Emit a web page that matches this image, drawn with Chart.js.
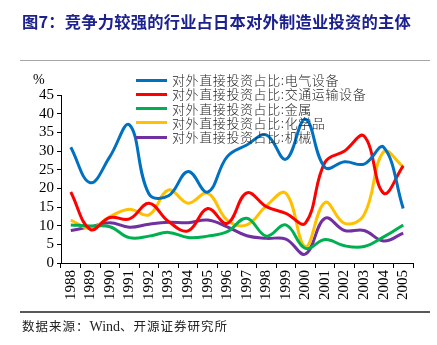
<!DOCTYPE html>
<html>
<head>
<meta charset="utf-8">
<script src="https://cdn.jsdelivr.net/npm/chart.js@4/dist/chart.umd.min.js"></script>
<style>
  html, body { margin: 0; padding: 0; background: #fff; }
  #wrap { position: relative; width: 437px; height: 345px; overflow: hidden; background: #fff; }
  #c { position: absolute; left: 0; top: 0; }
  #title { position: absolute; left: 22px; top: 9px; font-family: "Noto Sans CJK SC", sans-serif; font-weight: 700; font-size: 16.3px; color: #1c2190; white-space: nowrap; letter-spacing: 0.2px; }
  #rule1 { position: absolute; left: 20px; top: 60px; width: 410px; height: 1px; background: #a6a6a6; }
  #rule2 { position: absolute; left: 20px; top: 311px; width: 410px; height: 2px; background: #595959; }
  #source { position: absolute; left: 22px; top: 316px; font-family: "Noto Sans CJK SC", sans-serif; font-size: 12.5px; color: #222; white-space: nowrap; letter-spacing: 1px; }
  #source .en { font-family: "Liberation Serif", serif; font-size: 14px; letter-spacing: 0; }
  #pct { position: absolute; left: 33px; top: 72px; font-family: "Liberation Serif", serif; font-size: 14px; color: #000; }
  #legend { position: absolute; left: 136px; top: 73px; }
  .li { height: 14.25px; display: flex; align-items: center; white-space: nowrap; }
  .sw { width: 31px; height: 3px; margin-right: 5px; }
  .lt { font-family: "Noto Sans CJK SC", sans-serif; font-size: 13px; font-weight: 300; color: #222; letter-spacing: 0.6px; line-height: 14px; }
</style>
</head>
<body>
<div id="wrap">
  <canvas id="c" width="437" height="345"></canvas>
  <div id="title">图7：竞争力较强的行业占日本对外制造业投资的主体</div>
  <div id="rule1"></div>
  <div id="pct">%</div>
  <div id="legend"></div>
  <div id="rule2"></div>
  <div id="source">数据来源：<span class="en">Wind</span>、开源证券研究所</div>
</div>
<script>
const years = ["1988","1989","1990","1991","1992","1993","1994","1995","1996","1997","1998","1999","2000","2001","2002","2003","2004","2005"];
const seriesNames = ["对外直接投资占比:电气设备","对外直接投资占比:交通运输设备","对外直接投资占比:金属","对外直接投资占比:化学品","对外直接投资占比:机械"];
const electrical = [31, 21.5, 28.5, 37, 18.5, 18, 24.5, 19, 28.5, 31.6, 34.3, 27.8, 38.5, 25.6, 27.1, 26.5, 31, 14.6];
const transport  = [19, 9, 12.2, 11.8, 16, 11.1, 8.6, 14.6, 10.6, 18.8, 15.1, 13.3, 10.7, 27, 30, 34, 18.7, 26];
const metals     = [10.2, 9.9, 9.7, 6.8, 7.2, 8.2, 6.8, 7.2, 8.4, 12, 7.2, 10.2, 3.9, 6.3, 4.6, 4.4, 7, 10.2];
const chemicals  = [11.5, 9.3, 12.4, 14.4, 12.9, 19.6, 16, 18.7, 11.5, 10.2, 15.3, 18.7, 4.4, 16.2, 10.6, 12.9, 29.8, 25.8];
const machinery  = [8.7, 9.7, 10.8, 9.6, 10.4, 10.9, 10.8, 11.5, 9.7, 7.3, 6.6, 6.4, 2.4, 12, 8.7, 8.7, 5.9, 8];
const yTicks = [0, 5, 10, 15, 20, 25, 30, 35, 40, 45];

const seriesValues = [electrical, transport, metals, chemicals, machinery];
const colors = ["#0070C0", "#FF0000", "#00B050", "#FFC000", "#7030A0"];

const datasets = seriesNames.map((n, i) => ({
  label: n,
  data: seriesValues[i],
  borderColor: colors[i],
  backgroundColor: colors[i],
  borderWidth: 3,
  pointRadius: 0,
  tension: 0.4,
  fill: false
}));

const lg = document.getElementById('legend');
seriesNames.forEach((n, i) => {
  const d = document.createElement('div'); d.className = 'li';
  const s = document.createElement('div'); s.className = 'sw'; s.style.background = colors[i];
  const t = document.createElement('span'); t.className = 'lt'; t.textContent = n;
  d.appendChild(s); d.appendChild(t); lg.appendChild(d);
});

const tickFont = { family: "Liberation Serif", size: 15 };
new Chart(document.getElementById('c'), {
  type: 'line',
  data: { labels: years, datasets },
  options: {
    responsive: false,
    animation: false,
    devicePixelRatio: 1,
    layout: { padding: { top: 95, right: 24, left: 0, bottom: 0 } },
    plugins: { legend: { display: false }, tooltip: { enabled: false } },
    scales: {
      x: {
        type: 'category',
        offset: true,
        grid: { display: true, drawOnChartArea: false, offset: true, tickLength: 5, color: '#000', lineWidth: 1 },
        border: { display: true, color: '#000', width: 1 },
        ticks: { minRotation: 90, maxRotation: 90, autoSkip: false, color: '#000', font: tickFont, padding: 2 },
        afterFit: (s) => { s.height = 82; }
      },
      y: {
        min: yTicks[0], max: yTicks[yTicks.length - 1],
        afterBuildTicks: (s) => { s.ticks = yTicks.map(v => ({ value: v })); },
        grid: { display: true, drawOnChartArea: false, tickLength: 4, color: '#000', lineWidth: 1 },
        border: { display: true, color: '#000', width: 1 },
        ticks: { autoSkip: false, stepSize: 5, color: '#000', font: tickFont, padding: 3 },
        afterFit: (s) => { s.width = 61; }
      }
    }
  }
});
</script>
</body>
</html>
